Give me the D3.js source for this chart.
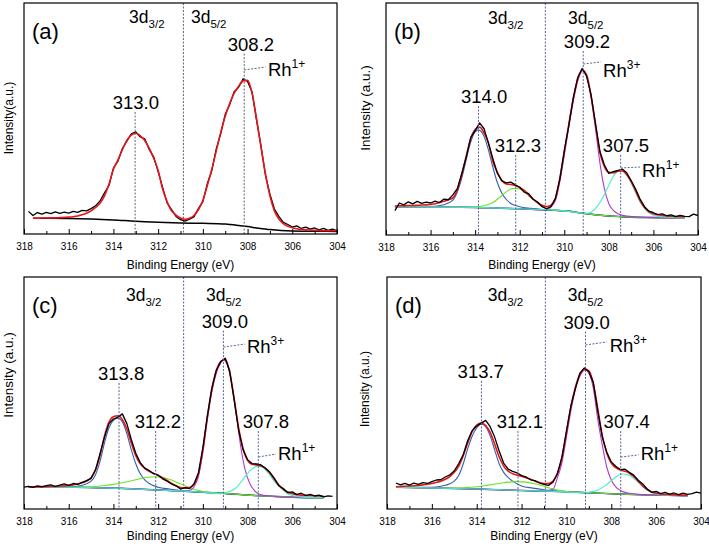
<!DOCTYPE html>
<html>
<head>
<meta charset="utf-8">
<script src="https://cdn.jsdelivr.net/npm/d3@7"></script>
<style>
  html, body { margin: 0; padding: 0; background: #fff; }
  svg { display: block; font-family: Arial, "Liberation Sans", sans-serif; }
</style>
</head>
<body>
<svg id="chart" width="709" height="547"></svg>
<script>
// ---------------- DATA ----------------
// Binding energy grid (eV) for measured spectra and envelopes
const energy = [
  318.0, 317.8, 317.6, 317.4, 317.2, 317.0, 316.8, 316.6, 316.4, 316.2,
  316.0, 315.8, 315.6, 315.4, 315.2, 315.0, 314.8, 314.6, 314.4, 314.2,
  314.0, 313.8, 313.6, 313.4, 313.2, 313.0, 312.8, 312.6, 312.4, 312.2,
  312.0, 311.8, 311.6, 311.4, 311.2, 311.0, 310.8, 310.6, 310.4, 310.2,
  310.0, 309.8, 309.6, 309.4, 309.2, 309.0, 308.8, 308.6, 308.4, 308.2,
  308.0, 307.8, 307.6, 307.4, 307.2, 307.0, 306.8, 306.6, 306.4, 306.2,
  306.0, 305.8, 305.6, 305.4, 305.2, 305.0, 304.8, 304.6, 304.4, 304.2,
  304.0
];
const xTicks = [318, 316, 314, 312, 310, 308, 306, 304];
const xMinorTicks = [317, 315, 313, 311, 309, 307, 305];

// ----- panel (a) -----
const dataA = [
  null, 9.8, 8.0, 9.3, 8.6, 9.4, 8.8, 9.6, 8.9, 9.5,
  9.0, 9.8, 9.4, 10.2, 10.0, 11.0, 12.2, 14.3, 17.8, 21.0,
  28.5, 31.5, 37.0, 40.2, 43.4, 44.2, 42.0, 41.2, 36.6, 33.4,
  27.0, 20.2, 13.5, 10.6, 7.6, 6.2, 5.6, 6.4, 7.4, 11.0,
  14.0, 21.8, 27.4, 36.8, 43.5, 51.8, 56.0, 61.6, 63.5, 67.2,
  66.0, 61.5, 49.4, 38.2, 25.5, 17.2, 10.8, 7.6, 5.0, 4.1,
  3.0, 3.5, 2.4, 3.0, 2.1, 2.6, 1.8, 2.4, 1.6, 2.1,
  1.4
];
const fitA = [
  null, null, 6.8, 6.8, 6.9, 6.9, 7.0, 7.0, 7.1, 7.2,
  7.3, 7.5, 7.8, 8.3, 9.0, 10.0, 11.5, 13.3, 16.5, 21.5,
  28.0, 32.0, 36.5, 40.5, 42.8, 43.6, 42.5, 40.5, 37.2, 32.8,
  27.5, 19.5, 14.0, 10.0, 8.2, 6.9, 6.4, 6.8, 8.0, 10.5,
  14.5, 21.0, 28.0, 36.0, 44.0, 51.0, 56.5, 61.0, 64.0, 66.3,
  66.5, 61.0, 50.0, 37.5, 26.0, 16.5, 10.0, 6.5, 4.5, 3.3,
  2.7, 2.3, 2.0, 1.8, 1.7, 1.6, 1.5, 1.4, 1.4, 1.4,
  1.4
];
const bgEnergyA = [317.6, 316, 315, 314, 313, 312, 311, 310, 309, 308.4, 308, 307.5, 307, 306.5, 306, 305, 304.0];
const bgA       = [6.8, 6.7, 6.5, 6.1, 5.5, 5.1, 4.8, 4.6, 4.3, 3.7, 3.2, 2.5, 1.9, 1.5, 1.3, 1.2, 1.1];

// ----- panel (b) -----
const dataB = [
  null, null, 10.5, 13.8, 13.0, 14.3, 13.4, 14.5, 13.6, 14.2,
  13.8, 14.6, 14.0, 15.5, 15.2, 17.3, 20.0, 26.5, 33.5, 42.0,
  45.0, 48.3, 45.8, 39.5, 32.8, 26.5, 23.3, 22.5, 22.8, 21.6,
  20.6, 18.5, 17.8, 15.4, 14.2, 12.2, 11.3, 12.2, 15.8, 24.0,
  36.5, 47.0, 59.0, 67.8, 71.8, 68.5, 60.5, 48.0, 36.0, 30.2,
  26.5, 27.3, 27.8, 28.4, 26.8, 23.5, 19.8, 15.5, 12.2, 10.3,
  9.6, 8.8, 9.1, 8.3, 8.7, 7.9, 8.5, 8.0, 7.9, 9.0,
  8.4
];
const fitB = [
  null, null, 12.5, 12.6, 12.6, 12.7, 12.7, 12.8, 12.9, 13.0,
  13.2, 13.5, 14.0, 14.5, 15.2, 16.0, 19.5, 26.0, 34.0, 41.5,
  45.5, 46.5, 44.0, 39.5, 31.5, 27.0, 23.5, 22.0, 21.8, 21.3,
  20.5, 19.2, 17.3, 15.5, 13.9, 12.8, 12.3, 12.9, 15.5, 24.5,
  35.5, 47.5, 58.5, 67.0, 71.0, 69.0, 60.0, 47.5, 35.5, 29.5,
  27.0, 26.8, 27.5, 27.6, 26.0, 23.0, 19.0, 14.8, 11.8, 10.0,
  9.2, 8.7, 8.4, 8.2, 8.1, 8.0, 7.9, 7.9, null, null,
  null
];
const bgEnergyB = [317.6, 316, 314, 313, 312, 311, 310, 309, 308, 307, 306, 305, 304.6];
const bgB       = [12.2, 12.1, 11.9, 11.6, 11.3, 10.9, 10.4, 9.2, 8.2, 7.7, 7.5, 7.4, 7.4];
const comp314E_B = [317.6, 316.0, 315.4, 315.0, 314.8, 314.6, 314.4, 314.2, 314.0, 313.85, 313.6, 313.4, 313.2, 313.0, 312.8, 312.6, 312.4, 312.0, 311.5, 311.0, 310.0, 309.0, 308.0, 306.0, 304.6];
const comp314V_B = [12.2, 12.3, 13.0, 15.0, 18.5, 24.5, 32.5, 40.0, 44.5, 45.3, 42.5, 36.5, 29.0, 22.5, 18.0, 15.3, 13.6, 12.2, 11.5, 11.0, 10.4, 9.2, 8.2, 7.5, 7.4];
const comp312E_B = [317.6, 314.5, 314.0, 313.6, 313.2, 312.9, 312.6, 312.4, 312.2, 312.0, 311.8, 311.5, 311.2, 310.9, 310.5, 310.0, 309.0, 308.0, 306.0, 304.6];
const comp312V_B = [12.2, 12.0, 12.1, 12.6, 14.0, 16.2, 18.6, 19.8, 20.1, 19.8, 18.6, 16.2, 13.8, 12.0, 10.9, 10.4, 9.2, 8.2, 7.5, 7.4];
const comp309E_B = [317.6, 314, 312, 311.0, 310.8, 310.6, 310.4, 310.2, 310.0, 309.8, 309.6, 309.4, 309.2, 309.15, 309.0, 308.8, 308.6, 308.4, 308.2, 308.0, 307.8, 307.6, 307.2, 306.0, 304.6];
const comp309V_B = [12.2, 11.9, 11.3, 10.9, 11.2, 12.0, 14.8, 23.0, 34.5, 46.5, 57.5, 66.3, 70.8, 71.1, 68.5, 59.5, 46.0, 31.0, 20.0, 13.5, 10.6, 9.2, 8.2, 7.5, 7.4];
const comp307E_B = [317.6, 314, 312, 310, 309.0, 308.8, 308.6, 308.4, 308.2, 308.0, 307.8, 307.6, 307.5, 307.3, 307.1, 306.9, 306.7, 306.5, 306.3, 306.0, 305.6, 305.0, 304.6];
const comp307V_B = [12.2, 11.9, 11.3, 10.4, 9.3, 9.8, 11.5, 14.0, 17.5, 21.5, 25.3, 27.6, 28.0, 27.2, 24.5, 20.5, 16.2, 12.8, 10.3, 8.5, 7.8, 7.5, 7.4];

// ----- panel (c) -----
const dataC = [
  9.4, 9.8, 9.3, 10.0, 9.5, 10.1, 10.4, 9.7, 10.3, 10.8,
  10.2, 11.0, 10.6, 11.5, 12.2, 13.2, 17.0, 23.8, 31.0, 36.8,
  38.8, 39.6, 41.0, 36.8, 30.0, 24.0, 20.0, 17.6, 16.6, 15.2,
  14.6, 13.0, 12.0, 10.8, 10.0, 8.6, 9.2, 8.8, 10.8, 15.5,
  26.5, 40.0, 52.0, 59.8, 63.6, 65.0, 59.5, 47.0, 34.0, 25.5,
  21.2, 19.6, 19.4, 19.0, 17.6, 15.8, 13.2, 10.0, 8.8, 7.0,
  7.4, 6.2, 6.8, 5.8, 6.3, 5.6, 6.0, 5.2, 5.7, 5.4,
  null
];
const fitC = [
  null, 9.6, 9.6, 9.6, 9.7, 9.7, 9.8, 9.8, 9.9, 10.0,
  10.2, 10.4, 10.8, 11.3, 12.0, 13.5, 16.8, 23.0, 31.5, 37.5,
  39.8, 40.2, 38.5, 34.5, 28.5, 23.0, 19.5, 17.5, 16.2, 15.3,
  14.5, 13.5, 12.3, 11.0, 10.0, 9.3, 9.0, 9.2, 10.5, 15.0,
  25.5, 39.5, 51.5, 59.5, 63.5, 64.5, 59.0, 47.5, 35.0, 26.0,
  21.0, 19.3, 19.0, 18.6, 17.5, 15.5, 12.8, 10.3, 8.5, 7.3,
  6.6, 6.2, 6.0, 5.9, 5.8, 5.7, 5.6, 5.5, null, null,
  null
];
const bgEnergyC = [317.8, 316, 314, 313, 312, 311, 310, 309, 308, 307, 306, 305, 304.6];
const bgC       = [9.6, 9.4, 9.0, 8.6, 8.2, 7.8, 7.2, 6.7, 6.0, 5.5, 5.1, 4.9, 4.9];
const comp313E_C = [317.8, 316.0, 315.4, 315.0, 314.8, 314.6, 314.4, 314.2, 314.0, 313.78, 313.6, 313.4, 313.2, 313.0, 312.8, 312.6, 312.4, 312.0, 311.5, 311.0, 310.0, 309.0, 308.0, 306.0, 304.6];
const comp313V_C = [9.6, 9.5, 10.2, 12.0, 14.8, 20.5, 28.5, 35.0, 38.2, 39.1, 37.5, 32.5, 25.5, 19.5, 15.2, 12.6, 11.0, 9.4, 8.6, 8.0, 7.2, 6.7, 6.0, 5.1, 4.9];
const comp312E_C = [317.8, 316, 315, 314.5, 314, 313.5, 313.0, 312.6, 312.15, 311.8, 311.4, 311.0, 310.6, 310.2, 309.8, 309, 308, 306, 304.6];
const comp312V_C = [9.6, 9.5, 9.6, 10.0, 10.6, 11.5, 12.6, 13.5, 13.9, 13.6, 12.5, 10.8, 9.2, 8.0, 7.3, 6.7, 6.0, 5.1, 4.9];
const comp309E_C = [317.8, 314, 312, 311.0, 310.6, 310.4, 310.2, 310.0, 309.8, 309.6, 309.4, 309.2, 309.08, 308.9, 308.7, 308.5, 308.3, 308.1, 307.9, 307.7, 307.5, 307.0, 306.0, 304.6];
const comp309V_C = [9.6, 9.0, 8.2, 7.8, 8.0, 9.5, 14.0, 24.5, 38.5, 50.5, 58.5, 63.0, 64.2, 62.0, 53.5, 40.5, 26.5, 16.5, 11.0, 8.0, 6.5, 5.6, 5.1, 4.9];
const comp307E_C = [317.8, 314, 312, 310, 309.2, 308.8, 308.6, 308.4, 308.2, 308.0, 307.8, 307.55, 307.3, 307.1, 306.9, 306.7, 306.5, 306.3, 306.0, 305.5, 304.6];
const comp307V_C = [9.6, 9.0, 8.2, 7.2, 6.6, 7.5, 8.5, 10.3, 12.8, 15.3, 17.3, 18.5, 17.8, 15.8, 13.2, 10.8, 9.0, 7.2, 5.8, 5.1, 4.9];

// ----- panel (d) -----
const dataD = [
  null, null, 11.2, 10.4, 11.0, 10.3, 11.2, 10.6, 11.4, 11.0,
  11.8, 12.5, 12.6, 13.8, 14.7, 16.5, 19.6, 23.5, 29.5, 33.8,
  35.8, 37.0, 38.2, 35.5, 31.0, 25.0, 19.8, 17.2, 16.2, 15.6,
  14.4, 13.8, 12.6, 12.2, 11.2, 10.6, 10.2, 11.5, 15.2, 22.5,
  33.5, 44.5, 52.0, 58.5, 60.8, 59.2, 54.5, 42.0, 31.0, 24.5,
  20.3, 18.4, 17.0, 17.2, 15.8, 14.6, 12.4, 10.8, 8.6, 7.2,
  7.6, 6.6, 7.2, 6.4, 6.9, 6.2, 6.8, 6.3, 6.6, 7.3,
  6.8
];
const fitD = [
  null, null, 9.6, 9.7, 9.8, 9.9, 10.0, 10.2, 10.4, 10.7,
  11.0, 11.5, 12.0, 12.8, 14.0, 15.8, 18.5, 23.0, 28.5, 33.5,
  36.2, 37.0, 36.0, 33.0, 28.0, 22.5, 18.5, 16.3, 15.2, 14.6,
  14.1, 13.5, 12.8, 12.0, 11.4, 11.0, 11.0, 12.0, 15.5, 22.0,
  33.0, 44.0, 52.5, 58.0, 60.3, 59.5, 54.0, 43.0, 31.5, 24.0,
  19.8, 17.8, 16.8, 16.3, 15.5, 14.0, 12.0, 10.0, 8.4, 7.3,
  6.8, 6.5, 6.3, 6.2, 6.1, 6.0, 6.0, 5.9, null, null,
  null
];
const bgEnergyD = [317.6, 316, 314, 313, 312, 311, 310, 309, 308, 307, 306, 305, 304.6];
const bgD       = [9.4, 9.1, 8.6, 8.3, 8.0, 7.7, 7.4, 7.0, 6.6, 6.3, 6.0, 5.8, 5.7];
const comp313E_D = [317.6, 316.0, 315.4, 315.0, 314.8, 314.6, 314.4, 314.2, 314.0, 313.78, 313.6, 313.4, 313.2, 313.0, 312.8, 312.6, 312.4, 312.0, 311.5, 311.0, 310.0, 309.0, 308.0, 306.0, 304.6];
const comp313V_D = [9.4, 9.3, 10.2, 12.0, 14.5, 19.5, 26.0, 31.5, 35.0, 36.6, 35.5, 31.5, 25.5, 19.5, 15.8, 13.6, 12.0, 9.9, 9.0, 8.3, 7.5, 7.0, 6.6, 6.0, 5.7];
const comp312E_D = [317.6, 315, 314.5, 314, 313.5, 313.0, 312.6, 312.15, 311.8, 311.4, 311.0, 310.6, 310.2, 309.8, 309, 308, 306, 304.6];
const comp312V_D = [9.4, 9.0, 9.2, 9.6, 10.3, 11.0, 11.6, 11.8, 11.6, 10.9, 9.8, 8.6, 7.8, 7.4, 7.0, 6.6, 6.0, 5.7];
const comp309E_D = [317.6, 314, 312, 311.0, 310.6, 310.4, 310.2, 310.0, 309.8, 309.6, 309.4, 309.15, 309.0, 308.8, 308.6, 308.4, 308.2, 308.0, 307.8, 307.6, 307.2, 306.6, 306.0, 304.6];
const comp309V_D = [9.4, 8.6, 8.0, 7.7, 8.5, 13.5, 20.0, 31.0, 42.5, 51.5, 57.3, 59.9, 58.5, 52.0, 38.5, 27.5, 18.0, 12.5, 9.5, 8.0, 6.8, 6.2, 6.0, 5.7];
const comp307E_D = [317.6, 314, 312, 310, 309.2, 308.8, 308.6, 308.4, 308.2, 308.0, 307.8, 307.5, 307.2, 307.0, 306.8, 306.6, 306.4, 306.2, 306.0, 305.6, 304.6];
const comp307V_D = [9.4, 8.6, 8.0, 7.4, 7.0, 7.6, 8.2, 9.2, 10.6, 12.2, 13.8, 15.1, 14.5, 13.2, 11.5, 9.7, 8.2, 7.1, 6.5, 6.0, 5.7];

// ----- annotations (energy / intensity in data units) -----
const panelNames = ["(a)", "(b)", "(c)", "(d)"];
const yTitles = ["Intensity(a.u.)", "Intensity (a.u.)", "Intensity (a.u.)", "Intensity (a.u.)"];
const splitEnergy = [310.87, 310.85, 310.86, 310.94];
const orbitalE32 = [313.30, 313.42, 313.44, 313.51];
const orbitalE52 = [310.53, 309.83, 309.86, 309.94];
const orbitalV   = [91.5, 90.9, 89.6, 89.6];

const peaksA = [
  { text: "313.0", lineE: 313.03, labelE: 313.00, labelV: 54.1 },
  { text: "308.2", lineE: 308.15, labelE: 307.85, labelV: 79.4 }
];
const peaksB = [
  { text: "314.0", lineE: 313.85, labelE: 313.60, labelV: 56.9 },
  { text: "312.3", lineE: 312.18, labelE: 312.08, labelV: 35.8 },
  { text: "309.2", lineE: 309.15, labelE: 308.98, labelV: 80.6 },
  { text: "307.5", lineE: 307.47, labelE: 307.23, labelV: 35.8 }
];
const peaksC = [
  { text: "313.8", lineE: 313.75, labelE: 313.66, labelV: 55.6 },
  { text: "312.2", lineE: 312.11, labelE: 312.01, labelV: 34.9 },
  { text: "309.0", lineE: 309.08, labelE: 309.01, labelV: 78.2 },
  { text: "307.8", lineE: 307.52, labelE: 307.18, labelV: 34.9 }
];
const peaksD = [
  { text: "313.7", lineE: 313.79, labelE: 313.82, labelV: 56.5 },
  { text: "312.1", lineE: 312.16, labelE: 312.08, labelV: 34.9 },
  { text: "309.0", lineE: 309.15, labelE: 309.10, labelV: 77.8 },
  { text: "307.4", lineE: 307.58, labelE: 307.31, labelV: 34.9 }
];
const ionsA = [ { ion: "1+", fromE: 308.15, fromV: 71.0, toE: 307.20, toV: 72.3, textE: 307.09, textV: 68.5 } ];
const ionsB = [
  { ion: "3+", fromE: 309.15, fromV: 73.7, toE: 308.35, toV: 74.6, textE: 308.26, textV: 68.1 },
  { ion: "1+", fromE: 307.47, fromV: 28.9, toE: 306.60, toV: 29.3, textE: 306.51, textV: 25.0 }
];
const ionsC = [
  { ion: "3+", fromE: 309.08, fromV: 69.8, toE: 308.12, toV: 71.1, textE: 308.03, textV: 67.2 },
  { ion: "1+", fromE: 307.52, fromV: 22.4, toE: 306.73, toV: 23.7, textE: 306.64, textV: 21.1 }
];
const ionsD = [
  { ion: "3+", fromE: 309.15, fromV: 70.7, toE: 308.20, toV: 72.0, textE: 308.07, textV: 67.7 },
  { ion: "1+", fromE: 307.58, fromV: 22.4, toE: 306.78, toV: 23.3, textE: 306.69, textV: 21.1 }
];

// ---------------- LAYOUT / STYLE ----------------
const layouts = [
  { left: 24,  right: 337, top: 3,   bottom: 234, yTitleX: 12.5, yTitleY: 118, yTitleSize: 12,   xTitleY: 269 },
  { left: 386, right: 698, top: 3,   bottom: 235, yTitleX: 369.5, yTitleY: 108, yTitleSize: 13.5, xTitleY: 269 },
  { left: 24,  right: 337, top: 277, bottom: 509, yTitleX: 13,   yTitleY: 375, yTitleSize: 13.5, xTitleY: 540 },
  { left: 387, right: 701, top: 277, bottom: 509, yTitleX: 369,  yTitleY: 389, yTitleSize: 12,   xTitleY: 540 }
];
const colors = { data: "#000", fit: "#e8141b", bg: "#14145a", blue: "#2f62ae", green: "#6ee21f", magenta: "#b03ad2", cyan: "#3ff0c4" };

const panels = [
  { data: dataA, fit: fitA, bgE: bgEnergyA, bgV: bgA, bgColor: "#000", comps: [], peaks: peaksA, ions: ionsA, guide: "#666", dataOnTop: false },
  { data: dataB, fit: fitB, bgE: bgEnergyB, bgV: bgB, bgColor: colors.bg, comps: [
      { e: comp314E_B, v: comp314V_B, c: colors.blue }, { e: comp312E_B, v: comp312V_B, c: colors.green },
      { e: comp309E_B, v: comp309V_B, c: colors.magenta }, { e: comp307E_B, v: comp307V_B, c: colors.cyan } ],
    peaks: peaksB, ions: ionsB, guide: "#5a6496", dataOnTop: true },
  { data: dataC, fit: fitC, bgE: bgEnergyC, bgV: bgC, bgColor: colors.bg, comps: [
      { e: comp313E_C, v: comp313V_C, c: colors.blue }, { e: comp312E_C, v: comp312V_C, c: colors.green },
      { e: comp309E_C, v: comp309V_C, c: colors.magenta }, { e: comp307E_C, v: comp307V_C, c: colors.cyan } ],
    peaks: peaksC, ions: ionsC, guide: "#5a6496", dataOnTop: true },
  { data: dataD, fit: fitD, bgE: bgEnergyD, bgV: bgD, bgColor: colors.bg, comps: [
      { e: comp313E_D, v: comp313V_D, c: colors.blue }, { e: comp312E_D, v: comp312V_D, c: colors.green },
      { e: comp309E_D, v: comp309V_D, c: colors.magenta }, { e: comp307E_D, v: comp307V_D, c: colors.cyan } ],
    peaks: peaksD, ions: ionsD, guide: "#5a6496", dataOnTop: true }
];

// ---------------- DRAW ----------------
const svg = d3.select("#chart");

panels.forEach((p, i) => {
  const L = layouts[i];
  const x = d3.scaleLinear().domain([318, 304]).range([L.left, L.right]);
  const y = d3.scaleLinear().domain([0, 100]).range([L.bottom, L.top]);
  const g = svg.append("g");

  const gridLine = (vals) => d3.line()
    .defined((d, k) => vals[k] !== null)
    .x((d, k) => x(energy[k]))
    .y((d, k) => y(vals[k]));
  const pairLine = (es, vs, curve) => d3.line()
    .x((d, k) => x(es[k]))
    .y((d, k) => y(vs[k]))
    .curve(curve);

  const clip = "clip" + i;
  svg.append("clipPath").attr("id", clip).append("rect")
    .attr("x", L.left).attr("y", L.top).attr("width", L.right - L.left).attr("height", L.bottom - L.top);
  const plot = g.append("g").attr("clip-path", `url(#${clip})`);

  // split guide line between 3d3/2 and 3d5/2
  plot.append("line")
    .attr("x1", x(splitEnergy[i])).attr("x2", x(splitEnergy[i]))
    .attr("y1", L.top).attr("y2", L.bottom)
    .attr("stroke", p.guide).attr("stroke-width", 1).attr("stroke-dasharray", "2,1.5");

  // background
  plot.append("path").datum(p.bgE)
    .attr("d", pairLine(p.bgE, p.bgV, d3.curveMonotoneX))
    .attr("fill", "none").attr("stroke", p.bgColor).attr("stroke-width", 1.5);

  // components
  p.comps.forEach(c => {
    plot.append("path").datum(c.e)
      .attr("d", pairLine(c.e, c.v, d3.curveMonotoneX))
      .attr("fill", "none").attr("stroke", c.c).attr("stroke-width", 1.1);
  });

  const drawFit = () => plot.append("path").datum(energy)
    .attr("d", gridLine(p.fit).curve(d3.curveMonotoneX))
    .attr("fill", "none").attr("stroke", colors.fit).attr("stroke-width", 1.6);
  const drawData = () => plot.append("path").datum(energy)
    .attr("d", gridLine(p.data))
    .attr("fill", "none").attr("stroke", colors.data).attr("stroke-width", 1.3)
    .attr("stroke-linejoin", "round");

  if (p.dataOnTop) { drawFit(); drawData(); } else { drawData(); drawFit(); }

  // peak position guides & labels
  p.peaks.forEach(pk => {
    const yl = y(pk.labelV);
    g.append("line")
      .attr("x1", x(pk.lineE)).attr("x2", x(pk.lineE))
      .attr("y1", yl + 3).attr("y2", L.bottom)
      .attr("stroke", p.guide).attr("stroke-width", 1).attr("stroke-dasharray", "2,1.5");
    g.append("text").attr("x", x(pk.labelE)).attr("y", yl)
      .attr("text-anchor", "middle").attr("font-size", 18.5).attr("fill", "#000").text(pk.text);
  });

  // oxidation state labels with leader lines
  p.ions.forEach(io => {
    g.append("line")
      .attr("x1", x(io.fromE)).attr("y1", y(io.fromV))
      .attr("x2", x(io.toE)).attr("y2", y(io.toV))
      .attr("stroke", p.guide).attr("stroke-width", 1).attr("stroke-dasharray", "2,1.5");
    const t = g.append("text").attr("x", x(io.textE)).attr("y", y(io.textV))
      .attr("font-size", 18.5).attr("fill", "#000");
    t.append("tspan").text("Rh");
    t.append("tspan").attr("dy", -8).attr("font-size", 12).text(io.ion);
  });

  // orbital labels
  [["3d", "3/2", orbitalE32[i]], ["3d", "5/2", orbitalE52[i]]].forEach(([m, s, e]) => {
    const t = g.append("text").attr("x", x(e)).attr("y", y(orbitalV[i]))
      .attr("font-size", 17.5).attr("fill", "#000");
    t.append("tspan").text(m);
    t.append("tspan").attr("dy", 5).attr("font-size", 11.5).text(s);
  });

  // panel letter
  g.append("text").attr("x", L.left + 8).attr("y", L.top + 36)
    .attr("font-size", 22).attr("fill", "#000").text(panelNames[i]);

  // axes: major & minor ticks pointing inward
  const axMaj = d3.axisBottom(x).tickValues(xTicks).tickFormat(d3.format("d"))
    .tickSizeInner(-5).tickSizeOuter(0).tickPadding(8.5);
  const gx = g.append("g").attr("transform", `translate(0,${L.bottom})`).call(axMaj);
  gx.select(".domain").remove();
  gx.selectAll("text").attr("font-size", 10).attr("font-family", "Arial, 'Liberation Sans', sans-serif").attr("fill", "#000");
  gx.selectAll("line").attr("stroke", "#000");
  const axMin = d3.axisBottom(x).tickValues(xMinorTicks).tickFormat("").tickSizeInner(-3).tickSizeOuter(0);
  const gm = g.append("g").attr("transform", `translate(0,${L.bottom})`).call(axMin);
  gm.select(".domain").remove();
  gm.selectAll("line").attr("stroke", "#000");

  // frame
  g.append("rect").attr("x", L.left).attr("y", L.top)
    .attr("width", L.right - L.left).attr("height", L.bottom - L.top)
    .attr("fill", "none").attr("stroke", "#000").attr("stroke-width", 1.2);

  // titles
  g.append("text").attr("x", (L.left + L.right) / 2).attr("y", L.xTitleY)
    .attr("text-anchor", "middle").attr("font-size", 12).attr("fill", "#000").text("Binding Energy (eV)");
  g.append("text").attr("transform", `translate(${L.yTitleX},${L.yTitleY}) rotate(-90)`)
    .attr("text-anchor", "middle").attr("font-size", L.yTitleSize).attr("fill", "#000").text(yTitles[i]);
});
</script>
</body>
</html>
